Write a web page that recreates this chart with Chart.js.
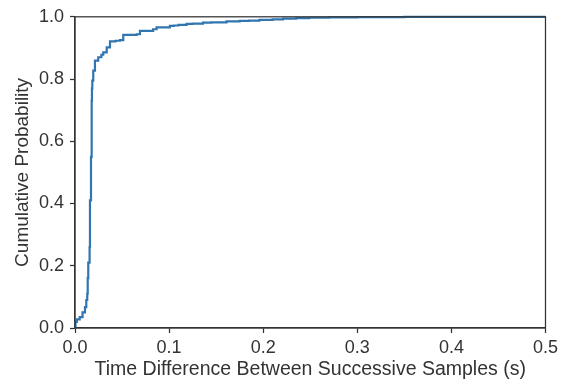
<!DOCTYPE html>
<html>
<head>
<meta charset="utf-8">
<script src="https://cdn.jsdelivr.net/npm/chart.js@4/dist/chart.umd.min.js"></script>
<style>
  html, body { margin: 0; padding: 0; background: #fff; }
  #wrap { width: 562px; height: 386px; position: relative; }
</style>
</head>
<body>
<div id="wrap"><canvas id="cdf-chart"></canvas></div>
<script>
// time differences (s) and cumulative probability
const timeDiffs = [0, 0.0005, 0.002, 0.005, 0.008, 0.0106, 0.012, 0.013, 0.0135, 0.0141,
  0.0155, 0.0159, 0.017, 0.0177, 0.018, 0.0184, 0.0194, 0.0212, 0.0247, 0.028,
  0.030, 0.0337, 0.0372, 0.043, 0.0478, 0.0513, 0.0655, 0.069, 0.083, 0.0867,
  0.1008, 0.105, 0.11, 0.1186, 0.125, 0.136, 0.145, 0.161, 0.175, 0.185,
  0.196, 0.21, 0.221, 0.235, 0.249, 0.27, 0.3, 0.35, 0.5];
const cumProb = [0, 0.02, 0.028, 0.035, 0.05, 0.067, 0.09, 0.11, 0.16, 0.21,
  0.26, 0.41, 0.55, 0.73, 0.77, 0.795, 0.827, 0.859, 0.87, 0.878,
  0.886, 0.902, 0.921, 0.923, 0.925, 0.942, 0.944, 0.955, 0.96, 0.966,
  0.971, 0.972, 0.974, 0.977, 0.978, 0.981, 0.982, 0.985, 0.987, 0.988,
  0.99, 0.992, 0.994, 0.996, 0.997, 0.998, 0.999, 1.0, 1.0];
const xTicks = [0, 0.1, 0.2, 0.3, 0.4, 0.5];
const yTicks = [0, 0.2, 0.4, 0.6, 0.8, 1.0];

const ink = "#333333";
const font = "'Liberation Sans', Arial, Helvetica, sans-serif";

// box round the plot area (top and right spines too)
const frame = {
  id: "frame",
  afterDatasetsDraw(chart) {
    const { ctx, chartArea: a } = chart;
    ctx.save();
    ctx.strokeStyle = ink;
    ctx.lineWidth = 1.25;
    ctx.strokeRect(a.left, a.top, a.right - a.left, a.bottom - a.top);
    ctx.restore();
  }
};

let config = {
  type: "line",
  data: {
    datasets: [
      {
        data: timeDiffs.map((x, i) => ({ x: x, y: cumProb[i] })),
        borderColor: "#3176b0",
        borderWidth: 2.2,
        pointRadius: 0,
        stepped: "before",
        fill: false,
        clip: false,
      },
    ],
  },
  options: {
    animation: false,
    responsive: true,
    maintainAspectRatio: false,
    layout: { padding: { top: 16, right: 16, left: 0, bottom: 0 } },
    plugins: { legend: { display: false }, tooltip: { enabled: false } },
    scales: {
      x: {
        type: "linear",
        min: 0,
        max: 0.5,
        afterBuildTicks: (s) => { s.ticks = xTicks.map(v => ({ value: v })); },
        afterFit: (s) => { s.height = 58; },
        ticks: {
          color: ink,
          font: { family: font, size: 18 },
          padding: 4,
          maxRotation: 0,
          callback: (v) => v.toFixed(1),
        },
        grid: { drawOnChartArea: false, tickLength: 5, tickColor: ink, tickWidth: 1.25 },
        border: { color: ink, width: 1.25 },
        title: {
          display: true,
          text: "Time Difference Between Successive Samples (s)",
          color: ink,
          font: { family: font, size: 19.5 },
          padding: { top: 0, bottom: 5 },
        },
      },
      y: {
        min: 0,
        max: 1,
        afterBuildTicks: (s) => { s.ticks = yTicks.map(v => ({ value: v })); },
        afterFit: (s) => { s.width = 75; },
        ticks: {
          color: ink,
          font: { family: font, size: 18 },
          padding: 6,
          callback: (v) => v.toFixed(1),
        },
        grid: { drawOnChartArea: false, tickLength: 5, tickColor: ink, tickWidth: 1.25 },
        border: { color: ink, width: 1.25 },
        title: {
          display: true,
          text: "Cumulative Probability",
          color: ink,
          font: { family: font, size: 19 },
          padding: { top: 11, bottom: 0 },
        },
      },
    },
  },
  plugins: [frame],
};

let ctx = document.getElementById("cdf-chart").getContext("2d");
window.cdfChart = new Chart(ctx, config);
</script>
</body>
</html>
